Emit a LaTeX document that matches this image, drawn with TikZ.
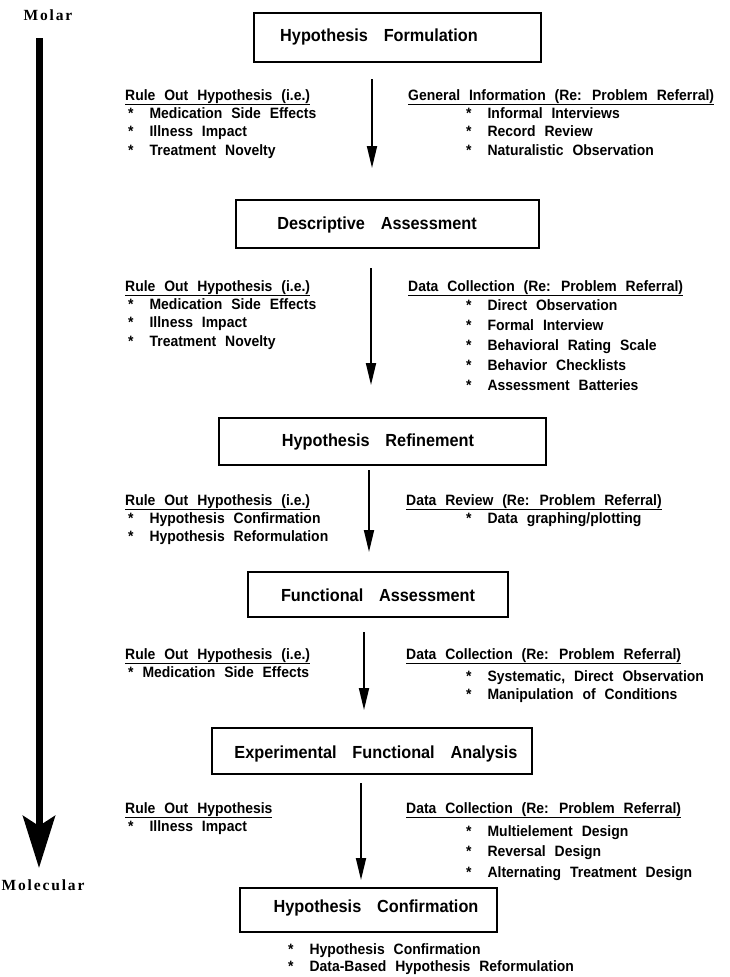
\documentclass[tikz,border=0pt]{standalone}
\usepackage{fontspec}
\setmainfont{Liberation Sans}[FakeStretch=0.93,WordSpace=2.3]
\newfontfamily\stagefont{Liberation Sans}[FakeStretch=0.93,WordSpace=3.5]
\newfontfamily\scalefont{Liberation Serif}[LetterSpace=12]
\usetikzlibrary{arrows.meta,positioning}
\newcommand{\itm}[1]{*\hspace{16pt}#1}
\begin{document}
\begin{tikzpicture}[x=1pt, y=-1pt,
    stage/.style={draw, line width=1.3pt, inner sep=0pt},
    stage text/.style={inner sep=0pt, font=\stagefont\fontsize{17.5}{19}\selectfont\bfseries},
    heading/.style={anchor=north west, inner sep=0pt, font=\fontsize{15}{18.5}\selectfont\bfseries},
    list/.style={anchor=north west, inner sep=0pt, align=left, font=\fontsize{15}{18.5}\selectfont\bfseries},
    flow/.style={-{Triangle[length=22pt,width=10pt]}, line width=1.8pt},
    scale label/.style={font=\scalefont\fontsize{15.5}{17}\selectfont\bfseries}]
    \useasboundingbox (0,0) rectangle (729,977);

    % Molar to molecular
    \node[scale label] (molar) at (48,15) {Molar};
    \node[scale label] (molecular) at (43,885) {Molecular};
    \coordinate (scaletop) at (39,38);
    \coordinate (scalebot) at (39,868);
    \draw[line width=7pt, -{Stealth[length=52pt,width=32pt,inset=10pt]}] (scaletop) -- (scalebot);

    % Stages
    \node[stage, minimum width=287pt, minimum height=49pt] (s1) at (397.5,37.5) {};
    \node[stage text] (t1) at (379,37) {Hypothesis Formulation};
    \node[stage, minimum width=303pt, minimum height=48pt] (s2) at (387.5,224) {};
    \node[stage text] (t2) at (377,225) {Descriptive Assessment};
    \node[stage, minimum width=327pt, minimum height=47pt] (s3) at (382.5,441.5) {};
    \node[stage text] (t3) at (378,442) {Hypothesis Refinement};
    \node[stage, minimum width=260pt, minimum height=45pt] (s4) at (378,594.5) {};
    \node[stage text] (t4) at (378,595) {Functional Assessment};
    \node[stage, minimum width=320pt, minimum height=46pt] (s5) at (372,751) {};
    \node[stage text] (t5) at (376,754) {Experimental Functional Analysis};
    \node[stage, minimum width=257pt, minimum height=44pt] (s6) at (368.5,910) {};
    \node[stage text] (t6) at (376,908) {Hypothesis Confirmation};

    % Arrows between stages
    \coordinate (a1s) at (372,79);  \coordinate (a1e) at (372,168);
    \coordinate (a2s) at (371,268); \coordinate (a2e) at (371,385);
    \coordinate (a3s) at (369,470); \coordinate (a3e) at (369,552);
    \coordinate (a4s) at (364,632); \coordinate (a4e) at (364,710);
    \coordinate (a5s) at (361,783); \coordinate (a5e) at (361,880);
    \draw[flow] (a1s) -- (a1e);
    \draw[flow] (a2s) -- (a2e);
    \draw[flow] (a3s) -- (a3e);
    \draw[flow] (a4s) -- (a4e);
    \draw[flow] (a5s) -- (a5e);

    % Step 1
    \node[heading] (r1) at (125,89) {\underline{Rule Out Hypothesis (i.e.)}};
    \node[list] (r1i) at (128,107) {\itm{Medication Side Effects}\\ \itm{Illness Impact}\\ \itm{Treatment Novelty}};
    \node[heading] (g1) at (408,89) {\underline{General Information (Re: Problem Referral)}};
    \node[list] (g1i) at (466,107) {\itm{Informal Interviews}\\ \itm{Record Review}\\ \itm{Naturalistic Observation}};

    % Step 2
    \node[heading] (r2) at (125,280) {\underline{Rule Out Hypothesis (i.e.)}};
    \node[list] (r2i) at (128,298) {\itm{Medication Side Effects}\\ \itm{Illness Impact}\\ \itm{Treatment Novelty}};
    \node[heading] (g2) at (408,280) {\underline{Data Collection (Re: Problem Referral)}};
    \node[list, font=\fontsize{15}{20}\selectfont\bfseries] (g2i) at (466,299) {\itm{Direct Observation}\\ \itm{Formal Interview}\\ \itm{Behavioral Rating Scale}\\ \itm{Behavior Checklists}\\ \itm{Assessment Batteries}};

    % Step 3
    \node[heading] (r3) at (125,494) {\underline{Rule Out Hypothesis (i.e.)}};
    \node[list] (r3i) at (128,512) {\itm{Hypothesis Confirmation}\\ \itm{Hypothesis Reformulation}};
    \node[heading] (g3) at (406,494) {\underline{Data Review (Re: Problem Referral)}};
    \node[list] (g3i) at (466,512) {\itm{Data graphing/plotting}};

    % Step 4
    \node[heading] (r4) at (125,648) {\underline{Rule Out Hypothesis (i.e.)}};
    \node[list] (r4i) at (128,666) {* Medication Side Effects};
    \node[heading] (g4) at (406,648) {\underline{Data Collection (Re: Problem Referral)}};
    \node[list] (g4i) at (466,670) {\itm{Systematic, Direct Observation}\\ \itm{Manipulation of Conditions}};

    % Step 5
    \node[heading] (r5) at (125,802) {\underline{Rule Out Hypothesis}};
    \node[list] (r5i) at (128,820) {\itm{Illness Impact}};
    \node[heading] (g5) at (406,802) {\underline{Data Collection (Re: Problem Referral)}};
    \node[list, font=\fontsize{15}{20.5}\selectfont\bfseries] (g5i) at (466,825) {\itm{Multielement Design}\\ \itm{Reversal Design}\\ \itm{Alternating Treatment Design}};

    % Outcome
    \node[list, font=\fontsize{15}{17}\selectfont\bfseries] (s6i) at (288,943) {\itm{Hypothesis Confirmation}\\ \itm{Data-Based Hypothesis Reformulation}};
\end{tikzpicture}
\end{document}
